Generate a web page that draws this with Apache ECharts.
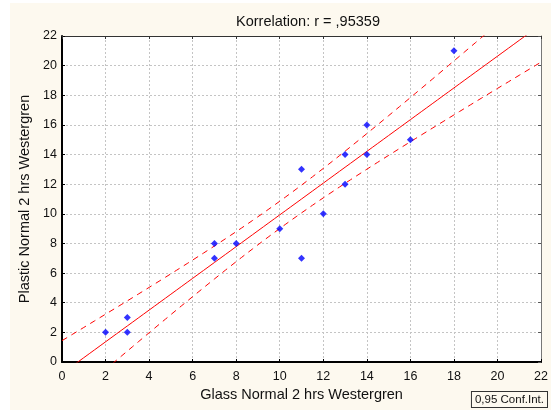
<!DOCTYPE html>
<html>
<head>
<meta charset="utf-8">
<script src="https://cdn.jsdelivr.net/npm/echarts@6/dist/echarts.min.js"></script>
<style>
  html, body { margin: 0; padding: 0; background: #ffffff; }
  #chart { width: 551px; height: 410px; }
</style>
</head>
<body>
<div id="chart"></div>
<script>
// Glass vs plastic tube ESR readings (mm after 2 hrs, Westergren)
const glass   = [2, 3, 3, 7, 7, 8, 10, 11, 11, 12, 13, 13, 14, 14, 16, 18];
const plastic = [2, 3, 2, 8, 7, 8, 9, 13, 7, 10, 14, 12, 16, 14, 15, 21];
const axisTicks = [0, 2, 4, 6, 8, 10, 12, 14, 16, 18, 20, 22];
const titleText = 'Korrelation: r = ,95359';
const xName = 'Glass Normal 2 hrs Westergren';
const yName = 'Plastic Normal 2 hrs Westergren';
const bandLabel = '0,95 Conf.Int.';
const tCrit = 2.145; // Student t, 0.975 quantile, n - 2 degrees of freedom

// Least-squares fit and 95% confidence band for the mean response
const n = glass.length;
const mx = glass.reduce((a, b) => a + b, 0) / n;
const my = plastic.reduce((a, b) => a + b, 0) / n;
let sxx = 0, sxy = 0;
for (let i = 0; i < n; i++) {
  sxx += (glass[i] - mx) ** 2;
  sxy += (glass[i] - mx) * (plastic[i] - my);
}
const slope = sxy / sxx;
const intercept = my - slope * mx;
let sse = 0;
for (let i = 0; i < n; i++) sse += (plastic[i] - (intercept + slope * glass[i])) ** 2;
const s = Math.sqrt(sse / (n - 2));

const xMin = axisTicks[0], xMax = axisTicks[axisTicks.length - 1];
const fitLine = [], upper = [], lower = [];
const steps = 88;
for (let k = 0; k <= steps; k++) {
  const x = xMin + (xMax - xMin) * k / steps;
  const yh = intercept + slope * x;
  const half = tCrit * s * Math.sqrt(1 / n + (x - mx) ** 2 / sxx);
  fitLine.push([x, yh]);
  upper.push([x, yh + half]);
  lower.push([x, yh - half]);
}

const points = glass.map((g, i) => [g, plastic[i]]);
const font = '"Liberation Sans", Arial, sans-serif';

const chart = echarts.init(document.getElementById('chart'), null, { renderer: 'canvas' });

const gridDash = { color: '#c4c4c4', type: [2, 2], width: 1 };
const bandStyle = { color: '#ff0000', width: 1, type: [6, 5] };

chart.setOption({
  backgroundColor: '#ffffff',
  animation: false,
  graphic: [
    {
      type: 'rect', left: 10, top: 3, z: -10, silent: true,
      shape: { width: 541, height: 407 },
      style: { fill: '#fdf9ef' }
    },
    {
      type: 'text', right: 3, bottom: 2, z: 10,
      style: {
        text: bandLabel, font: '11.5px ' + font, fill: '#111',
        backgroundColor: '#fdf9ef', borderColor: '#333', borderWidth: 1,
        padding: [2, 3, 1, 3]
      }
    }
  ],
  title: {
    text: titleText,
    left: 303, top: 9, textAlign: 'center',
    textStyle: { fontFamily: font, fontSize: 14.5, fontWeight: 'normal', color: '#111' }
  },
  grid: { left: 62, right: 6, top: 36, bottom: 48, show: true, backgroundColor: '#ffffff', borderWidth: 0 },
  xAxis: [
    {
      type: 'value', min: xMin, max: xMax, interval: 2,
      name: xName, nameLocation: 'middle', nameGap: 25,
      nameTextStyle: { fontFamily: font, fontSize: 14.5, color: '#111' },
      axisLine: { show: true, onZero: false, lineStyle: { color: '#000', width: 2 } },
      axisTick: { show: true, inside: true, length: 3, lineStyle: { color: '#000' } },
      axisLabel: { fontFamily: font, fontSize: 12.5, color: '#111', margin: 8 },
      splitLine: { show: true, lineStyle: gridDash }
    },
    {
      type: 'value', position: 'top', min: xMin, max: xMax, interval: 2,
      axisLine: { show: true, onZero: false, lineStyle: { color: '#333', width: 1 } },
      axisTick: { show: true, inside: true, length: 3, lineStyle: { color: '#333' } },
      axisLabel: { show: false },
      splitLine: { show: false }
    }
  ],
  yAxis: [
    {
      type: 'value', min: xMin, max: xMax, interval: 2,
      name: yName, nameLocation: 'middle', nameGap: 26, nameRotate: 90,
      nameTextStyle: { fontFamily: font, fontSize: 14.5, color: '#111' },
      axisLine: { show: true, onZero: false, lineStyle: { color: '#000', width: 2 } },
      axisTick: { show: true, inside: true, length: 3, lineStyle: { color: '#000' } },
      axisLabel: { fontFamily: font, fontSize: 12.5, color: '#111', margin: 5 },
      splitLine: { show: true, lineStyle: gridDash }
    },
    {
      type: 'value', position: 'right', min: xMin, max: xMax, interval: 2,
      axisLine: { show: true, onZero: false, lineStyle: { color: '#777', width: 1 } },
      axisTick: { show: true, inside: true, length: 3, lineStyle: { color: '#555' } },
      axisLabel: { show: false },
      splitLine: { show: false }
    }
  ],
  series: [
    {
      name: 'upper', type: 'line', data: upper, showSymbol: false, clip: true,
      lineStyle: bandStyle, z: 3
    },
    {
      name: 'lower', type: 'line', data: lower, showSymbol: false, clip: true,
      lineStyle: bandStyle, z: 3
    },
    {
      name: 'fit', type: 'line', data: fitLine, showSymbol: false, clip: true,
      lineStyle: { color: '#ff0000', width: 1 }, z: 4
    },
    {
      name: 'Plastic', type: 'scatter', data: points, symbol: 'diamond', symbolSize: 7,
      itemStyle: { color: '#0000ff' }, z: 5
    }
  ]
});
</script>
</body>
</html>
